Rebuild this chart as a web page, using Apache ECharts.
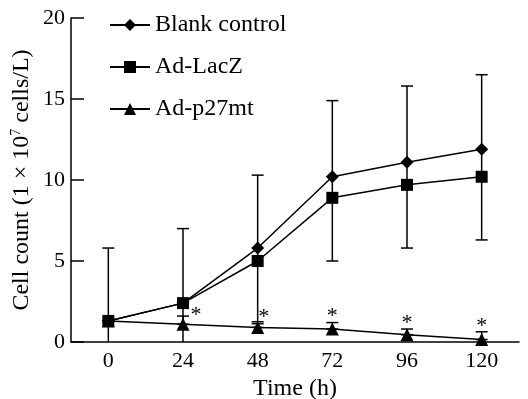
<!DOCTYPE html>
<html>
<head>
<meta charset="utf-8">
<script src="https://cdn.jsdelivr.net/npm/echarts@6/dist/echarts.min.js"></script>
<style>
  html, body { margin: 0; padding: 0; background: #fff; }
  #main { width: 528px; height: 399px; }
</style>
</head>
<body>
<div id="main"></div>
<script>
const hours = ['0', '24', '48', '72', '96', '120'];
const blankControl = [1.3, 2.4, 5.8, 10.2, 11.1, 11.9];
const adLacZ = [1.3, 2.4, 5.0, 8.9, 9.7, 10.2];
const adP27mt = [1.3, 1.1, 0.9, 0.8, 0.45, 0.15];
// error bar ends
const blankHigh = [5.8, 7.0, 10.3, 14.9, 15.8, 16.5];
const blankLow = [-3.2, -2.2, 1.25, 5.0, 5.8, 6.3];
const p27High = [1.3, 1.6, 1.13, 1.2, 0.8, 0.63];
const significant = [false, true, true, true, true, true];

const chart = echarts.init(document.getElementById('main'), null, { renderer: 'canvas' });
const font = 'Liberation Serif';

const errorBars = (lows, highs, sig) => ({
  type: 'custom',
  silent: true,
  clip: true,
  z: 1,
  data: hours.map((h, i) => [i, lows[i], highs[i]]),
  renderItem: (params, api) => {
    const i = api.value(0);
    const lo = api.coord([i, api.value(1)]);
    const hi = api.coord([i, api.value(2)]);
    const cap = 6;
    const style = { stroke: '#000', lineWidth: 1.5 };
    const children = [
      { type: 'line', shape: { x1: hi[0], y1: hi[1], x2: lo[0], y2: lo[1] }, style },
      { type: 'line', shape: { x1: hi[0] - cap, y1: hi[1], x2: hi[0] + cap, y2: hi[1] }, style },
      { type: 'line', shape: { x1: lo[0] - cap, y1: lo[1], x2: lo[0] + cap, y2: lo[1] }, style }
    ];
    if (sig && sig[i]) {
      // the first two stars sit a little to the right of their caps
      const dx = i === 1 ? 13 : (i === 2 ? 6 : 0);
      const dy = i === 1 ? -12 : -17;
      children.push({
        type: 'text',
        style: { text: '*', x: hi[0] + dx, y: hi[1] + dy, align: 'center', verticalAlign: 'top', font: '22px ' + font, fill: '#000' }
      });
    }
    return { type: 'group', children };
  }
});

const lineSeries = (name, data, symbol, size) => ({
  name,
  type: 'line',
  data,
  symbol,
  symbolSize: size,
  z: 3,
  lineStyle: { color: '#000', width: 1.5 },
  itemStyle: { color: '#000' }
});

chart.setOption({
  animation: false,
  textStyle: { fontFamily: font, color: '#000' },
  grid: { left: 71, right: 9, top: 18, bottom: 57, outerBoundsMode: 'none', containLabel: false },
  legend: {
    orient: 'vertical',
    left: 104,
    top: 8,
    itemWidth: 40,
    itemHeight: 15,
    itemGap: 18,
    textStyle: { fontFamily: font, fontSize: 24, color: '#000' },
    data: ['Blank control', 'Ad-LacZ', 'Ad-p27mt']
  },
  xAxis: {
    type: 'category',
    data: hours,
    boundaryGap: true,
    name: 'Time (h)',
    nameLocation: 'middle',
    nameGap: 34,
    nameTextStyle: { fontFamily: font, fontSize: 24, color: '#000' },
    axisLine: { lineStyle: { color: '#000', width: 1.5 } },
    axisTick: { inside: true, length: 12, lineStyle: { color: '#000', width: 1.5 } },
    axisLabel: { fontFamily: font, fontSize: 22, color: '#000', margin: 8 },
    splitLine: { show: false }
  },
  yAxis: {
    type: 'value',
    min: 0,
    max: 20,
    interval: 5,
    name: 'Cell count (1 × 10{sup|7} cells/L)',
    nameLocation: 'middle',
    nameGap: 36,
    nameMoveOverlap: false,
    nameTextStyle: {
      fontFamily: font, fontSize: 24, color: '#000', lineHeight: 26,
      rich: { sup: { fontFamily: font, fontSize: 14, verticalAlign: 'top', lineHeight: 26 } }
    },
    axisLine: { show: true, lineStyle: { color: '#000', width: 1.5 } },
    axisTick: { show: true, inside: true, length: 13, lineStyle: { color: '#000', width: 1.5 } },
    axisLabel: { fontFamily: font, fontSize: 22, color: '#000', margin: 6 },
    splitLine: { show: false }
  },
  series: [
    errorBars(blankLow, blankHigh, null),
    errorBars(adP27mt, p27High, significant),
    lineSeries('Blank control', blankControl, 'diamond', 13),
    lineSeries('Ad-LacZ', adLacZ, 'rect', 12),
    lineSeries('Ad-p27mt', adP27mt, 'triangle', 13)
  ]
});
</script>
</body>
</html>
